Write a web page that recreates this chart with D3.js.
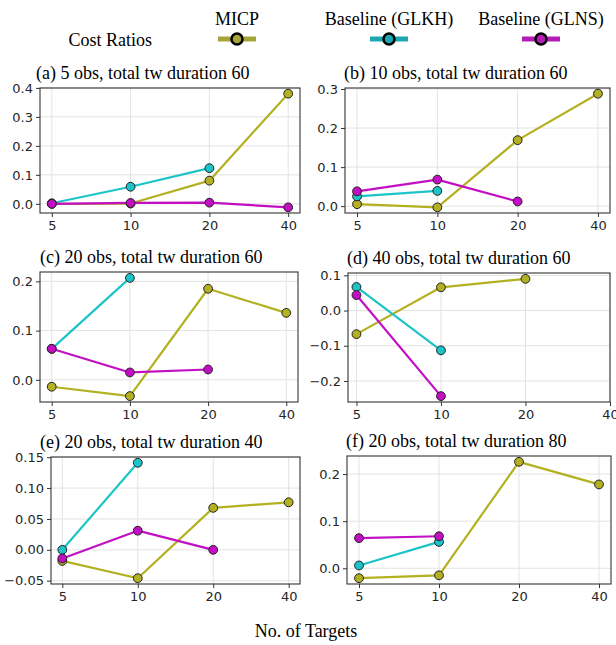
<!DOCTYPE html>
<html>
<head>
<meta charset="utf-8">
<script src="https://cdn.jsdelivr.net/npm/d3@7/dist/d3.min.js"></script>
<style>
  html, body { margin: 0; padding: 0; background: #fff; }
  svg { display: block; }
</style>
</head>
<body>
<svg id="chart" width="616" height="645"></svg>
<script>
// ---------------- DATA ----------------
const targets = [5, 10, 20, 40];
const seriesNames = ["MICP", "Baseline (GLKH)", "Baseline (GLNS)"];
const panelTitles = [
  "(a) 5 obs, total tw duration 60",
  "(b) 10 obs, total tw duration 60",
  "(c) 20 obs, total tw duration 60",
  "(d) 40 obs, total tw duration 60",
  "(e) 20 obs, total tw duration 40",
  "(f) 20 obs, total tw duration 80"
];
const micp = [
  [0.000, 0.001, 0.080, 0.380],
  [0.005, -0.003, 0.169, 0.288],
  [-0.014, -0.033, 0.185, 0.136],
  [-0.067, 0.066, 0.090, null],
  [-0.018, -0.046, 0.068, 0.077],
  [-0.021, -0.015, 0.226, 0.178]
];
const glkh = [
  [0.002, 0.059, 0.123, null],
  [0.025, 0.039, null, null],
  [0.063, 0.207, null, null],
  [0.067, -0.113, null, null],
  [0.000, 0.141, null, null],
  [0.006, 0.056, null, null]
];
const glns = [
  [0.000, 0.003, 0.004, -0.012],
  [0.038, 0.068, 0.012, null],
  [0.063, 0.015, 0.021, null],
  [0.044, -0.243, null, null],
  [-0.014, 0.031, 0.000, null],
  [0.064, 0.068, null, null]
];
const yTicks = [
  [0, 0.1, 0.2, 0.3, 0.4],
  [0, 0.1, 0.2, 0.3],
  [0, 0.1, 0.2],
  [-0.2, -0.1, 0, 0.1],
  [-0.05, 0, 0.05, 0.10, 0.15],
  [0, 0.1, 0.2]
];
const yTickDecimals = [1, 1, 1, 1, 2, 1];
const xAxisLabel = "No. of Targets";
const legendTitle = "Cost Ratios";

// ---------------- STYLE / LAYOUT ----------------
const lineColors = ["#b3b021", "#1cc4c8", "#c20fc4"];
const legendColors = ["#a7a43a", "#1ca7b1", "#b31db5"];
const boxes = [
  {l: 40, r: 300, t: 88, b: 213, tx: 36},
  {l: 345, r: 610, t: 88, b: 213, tx: 344},
  {l: 40, r: 298, t: 272, b: 402, tx: 40},
  {l: 348, r: 610, t: 273, b: 402, tx: 347},
  {l: 51, r: 300, t: 457, b: 584, tx: 40},
  {l: 347, r: 611, t: 456, b: 584, tx: 346}
];
const serif = "'Liberation Serif', 'Times New Roman', serif";
const sans = "'DejaVu Sans', sans-serif";

const svg = d3.select("#chart");
const allSeries = [micp, glkh, glns];

boxes.forEach((bx, pi) => {
  const g = svg.append("g");
  const vals = allSeries.map(s => s[pi]);
  // x domain: index-based with 5% margins on data, extended to include all ticks
  const lastIdx = d3.max(vals, v => d3.max(v.map((d, i) => d == null ? -1 : i)));
  const xmin = 0 - 0.05 * lastIdx;
  const xmax = Math.max(lastIdx + 0.05 * lastIdx, targets.length - 1);
  const x = d3.scaleLinear().domain([xmin, xmax]).range([bx.l, bx.r]);
  const flat = vals.flat().filter(v => v != null);
  const ext = d3.extent(flat);
  const pad = (ext[1] - ext[0]) * 0.05;
  const y = d3.scaleLinear().domain([ext[0] - pad, ext[1] + pad]).range([bx.b, bx.t]);

  // grid
  g.selectAll(".gx").data(targets).enter().append("line")
    .attr("x1", (d, i) => x(i)).attr("x2", (d, i) => x(i))
    .attr("y1", bx.t).attr("y2", bx.b)
    .attr("stroke", "#e3e3e3").attr("stroke-width", 1);
  g.selectAll(".gy").data(yTicks[pi]).enter().append("line")
    .attr("x1", bx.l).attr("x2", bx.r)
    .attr("y1", d => y(d)).attr("y2", d => y(d))
    .attr("stroke", "#e3e3e3").attr("stroke-width", 1);

  // axes via d3
  const xAxis = d3.axisBottom(x).tickValues(d3.range(targets.length))
    .tickFormat(i => targets[i]).tickSize(4).tickPadding(4);
  const fmt = d3.format("." + yTickDecimals[pi] + "f");
  const yAxis = d3.axisLeft(y).tickValues(yTicks[pi])
    .tickFormat(d => fmt(d).replace("-", "\u2212")).tickSize(4).tickPadding(3);
  const gx = g.append("g").attr("transform", `translate(0,${bx.b})`).call(xAxis);
  const gy = g.append("g").attr("transform", `translate(${bx.l},0)`).call(yAxis);
  [gx, gy].forEach(a => {
    a.select(".domain").remove();
    a.selectAll(".tick line").attr("stroke", "#333").attr("stroke-width", 1);
    a.selectAll(".tick text").attr("fill", "#262626")
      .style("font-family", sans).style("font-size", "13px");
  });

  // series
  vals.forEach((v, si) => {
    const pts = v.map((d, i) => ({i, d})).filter(p => p.d != null);
    const line = d3.line().x(p => x(p.i)).y(p => y(p.d));
    g.append("path").attr("d", line(pts))
      .attr("fill", "none").attr("stroke", lineColors[si]).attr("stroke-width", 2.2)
      .attr("stroke-linejoin", "round");
    g.selectAll(null).data(pts).enter().append("circle")
      .attr("cx", p => x(p.i)).attr("cy", p => y(p.d)).attr("r", 4.4)
      .attr("fill", lineColors[si]).attr("stroke", "#222").attr("stroke-width", 1);
  });

  // frame
  g.append("rect").attr("x", bx.l).attr("y", bx.t)
    .attr("width", bx.r - bx.l).attr("height", bx.b - bx.t)
    .attr("fill", "none").attr("stroke", "#333").attr("stroke-width", 1.1);

  // title
  g.append("text").attr("x", bx.tx).attr("y", bx.t - 9)
    .style("font-family", serif).style("font-size", "18px").attr("fill", "#000")
    .text(panelTitles[pi]);
});

// legend
const legX = [237, 389, 541];
const legend = svg.append("g");
legend.append("text").attr("x", 152).attr("y", 46).attr("text-anchor", "end")
  .style("font-family", serif).style("font-size", "18px").text(legendTitle);
seriesNames.forEach((name, i) => {
  legend.append("text").attr("x", legX[i]).attr("y", 25).attr("text-anchor", "middle")
    .style("font-family", serif).style("font-size", "18px").text(name);
  legend.append("line").attr("x1", legX[i] - 19).attr("x2", legX[i] + 19)
    .attr("y1", 39).attr("y2", 39).attr("stroke", legendColors[i]).attr("stroke-width", 5);
  legend.append("circle").attr("cx", legX[i]).attr("cy", 39).attr("r", 5.5)
    .attr("fill", legendColors[i]).attr("stroke", "#000").attr("stroke-width", 2.5);
});

// x axis label
svg.append("text").attr("x", 306).attr("y", 637).attr("text-anchor", "middle")
  .style("font-family", serif).style("font-size", "18px").text(xAxisLabel);
</script>
</body>
</html>
